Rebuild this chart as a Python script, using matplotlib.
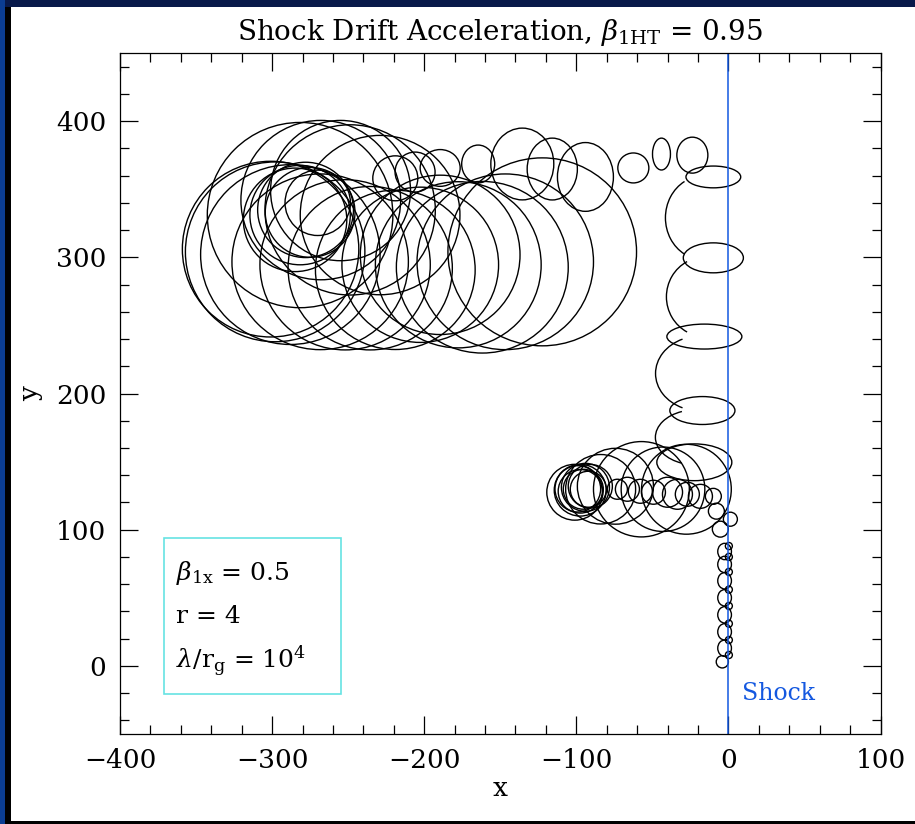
import matplotlib
matplotlib.use("Agg")
import matplotlib.pyplot as plt
from matplotlib.patches import Ellipse, Arc, Rectangle
from matplotlib.ticker import MultipleLocator, FuncFormatter

plt.rcParams["font.family"] = ["DejaVu Serif"]
plt.rcParams["mathtext.fontset"] = "dejavuserif"

# closed gyration loops: centre x, centre y, width, height
loop_x = [-4, 0.3, 0.3, 0.3, 0.3, 0.3, 0.3, 0.3, 0.3,
          -2.5, -2.5, -2.5, -2.5, -2.5, -2.5, -2.5,
          -5.3, 1.3, -7.9,
          -9.9, -18.4, -27, -33.5, -40, -49.3, -57.9, -66.4, -73,
          -97.4, -95.4, -94, -97.4, -92.1, -101, -90.8, -99,
          -27.6, -43, -57.2, -74.3, -84,
          -22.4, -17.1, -15.8, -9.9, -9.9,
          -23.7, -44, -62.5, -94, -115.8, -135.5, -164.5, -189.5, -206, -219,
          -122.4, -146.7, -161.8, -177.6, -189.5, -202.6, -219, -235.5, -252,
          -268.4, -288, -298, -301, -281.6, -268, -248.7, -229, -255,
          -281.6, -278, -284.9, -275, -270]
loop_y = [3, 8, 19, 31, 44, 56, 69, 80, 88,
          13, 25, 37.5, 50, 62.5, 74.5, 84,
          100.4, 107.7, 113.6,
          124.5, 124.5, 126, 126, 127.5, 127.5, 128.2, 129.7, 129.7,
          128.2, 129.7, 131.1, 129, 129.7, 127.5, 131.9, 130,
          129.7, 129.7, 129.7, 131.9, 129.7,
          149.5, 187.5, 241.8, 299.6, 359,
          375, 375.8, 365.6, 359, 364.8, 368.5, 368.5, 365.6, 362.6, 358,
          304, 296.7, 292.7, 294.5, 301.8, 294.5, 290.8, 292, 294.5,
          296.7, 302, 304, 306, 331, 342, 334.8, 331, 349,
          331, 334.8, 327.5, 333, 340]
loop_w = [8, 4.6, 4.6, 4.6, 4.6, 4.6, 4.6, 4.6, 4.6,
          9, 9, 9, 9, 9, 9, 9,
          10.5, 9.2, 10.5,
          10.5, 15.8, 15.8, 19.7, 19.7, 15.8, 15.8, 15.8, 13.2,
          29, 26.3, 31.6, 34.2, 23.7, 36.8, 29, 30,
          59, 55, 63, 50, 46,
          49.3, 42.8, 49.3, 39.5, 36,
          20.4, 11.8, 20.4, 36.8, 33, 41.4, 21.7, 26.3, 26.3, 29.6,
          124, 116, 113, 109, 105, 103, 105, 108, 112,
          116, 118, 118, 116, 122, 105, 112, 105, 92,
          66, 63, 68, 59, 43]
loop_h = [9, 5.2, 5.2, 5.2, 5.2, 5.2, 5.2, 5.2, 5.2,
          12, 12, 12, 12, 12, 12, 12,
          11.7, 10.3, 11.7,
          11.7, 17.6, 17.6, 22, 22, 17.6, 17.6, 17.6, 14.7,
          32, 29.3, 35.2, 38, 26.4, 41, 32, 34,
          66, 62, 70, 55.7, 51,
          27, 20.5, 18.3, 22, 16,
          26.4, 23.4, 22, 50.5, 45.4, 52.7, 27.8, 27, 29.3, 33,
          138, 129, 126, 122, 117, 114, 117, 120, 125,
          129, 132, 132, 129, 136, 117, 125, 117, 103,
          73, 70, 76, 66, 48]

# open half-turns on the upstream side of the shock: centre x, centre y, width, height
arc_x = [-16.4, -15.1, -18.4, -21.7]
arc_y = [329, 271, 214.7, 167.8]
arc_w = [50, 51.3, 59, 52.6]
arc_h = [61.5, 58.6, 55, 40.3]

shock_x = 0
info_lines = [r"$\beta_{\mathrm{1x}}$ = 0.5", "r = 4", r"$\lambda/\mathrm{r_g}$ = $10^4$"]

W, H = 915, 824
fig = plt.figure(figsize=(W / 100, H / 100), dpi=100, facecolor="#08194a")


def px_rect(x0, y0, x1, y1, color):
    fig.add_artist(Rectangle((x0 / W, 1 - y1 / H), (x1 - x0) / W, (y1 - y0) / H,
                             transform=fig.transFigure, fc=color, ec="none", zorder=-5))


px_rect(0, 0, 5, H, "#0b3d92")
px_rect(5, 7, 11, H, "black")
px_rect(5, 821, W, H, "black")
px_rect(11, 7, W, 821, "white")

ax = fig.add_axes([120 / W, 1 - 734 / H, 760.5 / W, 681 / H])
ax.set_facecolor("white")

for x, y, w, h in zip(loop_x, loop_y, loop_w, loop_h):
    ax.add_patch(Ellipse((x, y), w, h, fill=False, ec="black", lw=1.0))
for x, y, w, h in zip(arc_x, arc_y, arc_w, arc_h):
    ax.add_patch(Arc((x, y), w, h, theta1=115, theta2=245, ec="black", lw=1.0))

ax.axvline(shock_x, color="#1458e0", lw=1.1)
ax.text(shock_x + 9, -20.5, "Shock", color="#1458e0", fontsize=17, va="center")

ax.add_patch(Rectangle((-371, -20.5), 116.4, 114.3, fill=False, ec="#66e3e3", lw=1.2))
for yy, line in zip([68, 36.5, 4], info_lines):
    ax.text(-363, yy, line, fontsize=18, va="center")

ax.set_xlim(-400, 100)
ax.set_ylim(-50, 450)
ax.xaxis.set_major_locator(MultipleLocator(100))
ax.xaxis.set_minor_locator(MultipleLocator(20))
ax.yaxis.set_major_locator(MultipleLocator(100))
ax.yaxis.set_minor_locator(MultipleLocator(20))
fmt = FuncFormatter(lambda v, p: f"{v:.0f}".replace("-", "\u2212"))
ax.xaxis.set_major_formatter(fmt)
ax.yaxis.set_major_formatter(fmt)
ax.tick_params(which="both", direction="in", top=True, right=True, width=0.9, labelsize=19)
ax.tick_params(which="major", length=13, pad=10)
ax.tick_params(which="minor", length=6.5)
for s in ax.spines.values():
    s.set_linewidth(0.9)

ax.set_xlabel("x", fontsize=19, labelpad=2)
ax.set_ylabel("y", fontsize=19, labelpad=9)
ax.set_title(r"Shock Drift Acceleration, $\beta_{\mathrm{1HT}}$ = 0.95", fontsize=20, pad=9)

fig.savefig("out.png", dpi=100, facecolor=fig.get_facecolor())
